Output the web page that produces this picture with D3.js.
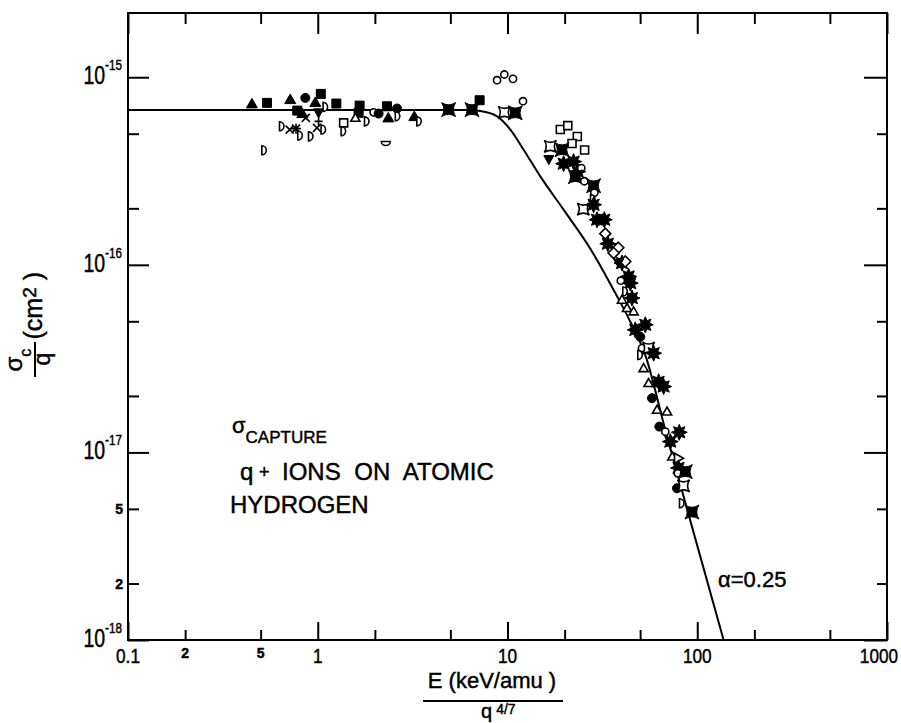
<!DOCTYPE html>
<html>
<head>
<meta charset="utf-8">
<script src="https://cdn.jsdelivr.net/npm/d3@7"></script>
<style>
  body { margin: 0; background: #fff; }
  svg text { font-family: 'Liberation Sans', Arial, sans-serif; fill: #000; stroke: #000; stroke-width: 0.45px; }
</style>
</head>
<body>
<div id="chart"></div>
<script>
// E (keV/amu) / q^(4/7) and sigma_c / q in units of 1e-16 cm^2
const flatEnergy = [0.450, 0.540, 0.523, 0.716, 0.860, 1.038, 0.971, 1.10, 1.253, 0.780,
  0.829, 0.865, 1.010, 1.010, 0.648, 0.711, 0.768, 0.809, 0.921, 0.991,
  1.073, 1.369, 1.369, 1.662, 1.642, 1.578, 1.818, 1.970, 2.093, 2.317,
  2.354, 2.617, 2.642, 3.228, 3.429, 2.284, 4.894, 6.50, 7.13, 8.81,
  9.62, 10.69, 12.07, 9.62, 10.99];
const flatSigma = [7.21, 7.30, 4.08, 7.60, 7.76, 8.15, 7.33, 6.95, 7.24, 6.64,
  6.40, 6.07, 6.46, 5.82, 5.48, 5.26, 5.32, 4.89, 4.84, 5.37,
  5.26, 5.71, 5.15, 7.06, 6.46, 6.07, 5.82, 6.50, 6.40, 7.00,
  6.07, 6.81, 6.19, 6.17, 5.82, 4.43, 6.72, 6.72, 7.54, 9.64,
  10.34, 9.80, 7.45, 6.50, 6.46];
const flatMarks = ['T', 'S', 'd', 'T', 'C', 'S', 'T', 'd', 'S', 'S',
  'T', 'x', 'V', '+', 'd', 'x', '*', 'd', 'd', 'x',
  'd', 's', 'd', 'S', 'S', 't', 'd', 'c', 'C', 'S',
  'T', 'C', 'd', 'T', 'd', 'u', 'A', 'A', 'S', 'c',
  'c', 'c', 'c', 'a', 'A'];

const steepEnergy = [18.98, 20.79, 23.33, 21.88, 25.49, 16.81, 16.51, 19.38, 19.76, 22.30,
  23.47, 24.49, 22.77, 25.40, 28.43, 28.68, 28.22, 25.09, 28.43, 32.37,
  29.64, 32.77, 33.78, 38.36, 36.24, 40.12, 41.77, 38.5, 43.48, 39.55,
  44.39, 41.77, 45.3, 40.12, 42.65, 46.19, 53.23, 47.16, 50.1, 51.15,
  55.4, 58.9, 50.1, 52.15, 55.4, 62.57, 66.5, 57.75, 61.37, 69.3,
  63.1, 67.85, 80.4, 72.1, 73.9, 79.7, 79.7, 79.0, 86.5, 78.2,
  84.7, 83.1, 93.8];
const steepSigma = [5.26, 5.52, 4.83, 4.43, 4.09, 4.28, 3.64, 4.11, 3.46, 3.55,
  3.14, 3.28, 2.95, 2.79, 2.64, 2.42, 2.24, 1.98, 2.09, 1.74,
  1.74, 1.466, 1.296, 1.234, 1.156, 1.022, 1.042, 1.022, 0.867, 0.823,
  0.799, 0.721, 0.665, 0.651, 0.588, 0.564, 0.479, 0.450, 0.413, 0.360,
  0.360, 0.338, 0.331, 0.281, 0.234, 0.238, 0.2245, 0.1946, 0.1686, 0.165,
  0.1373, 0.129, 0.128, 0.1142, 0.095, 0.0931, 0.0827, 0.0774, 0.079, 0.0644,
  0.0663, 0.0536, 0.0481];
const steepMarks = ['s', 's', 's', 's', 's', 'a', 'V', 'A', 'K', 'K',
  'K', 'c', 'A', 'c', 'A', 'c', 'd', 'a', 'K', 'K',
  'K', 'q', 'K', 'q', 'q', 'K', 'q', 'V', 'K', 'c',
  'K', 'd', 'K', 't', 't', 't', 'K', 'K', 'C', 'c',
  'a', 'K', 'd', 't', 't', 'K', 'K', 'C', 't', 't',
  'C', 'c', 'K', 'K', 't', 'r', 'K', 'c', 'A', 'C',
  'a', 'd', 'A'];

// alpha = 0.25 curve
const curveEnergy = [0.1, 6.37, 7.19, 8.81, 10.35, 12.16, 14.89, 20.17, 27.32, 36.99, 44.4, 53.2, 67.85, 91.2, 137.7];
const curveSigma = [6.68, 6.68, 6.60, 6.19, 5.26, 4.11, 2.96, 1.909, 1.219, 0.707, 0.497, 0.331, 0.1318, 0.0445, 0.01];

const xMajorTicks = [0.1, 1, 10, 100, 1000];
const xMinorTicks = [0.2, 0.5, 2, 5, 20, 50, 200, 500];
const xMinorLabels = [[0.2, '2'], [0.5, '5']];
const yMajorTicks = [1e-18, 1e-17, 1e-16, 1e-15];
const yMajorExps = ['-18', '-17', '-16', '-15'];
const yMinorTicks = [2e-18, 5e-18, 2e-17, 5e-17, 2e-16, 5e-16];
const yMinorLabels = [[2e-18, '2'], [5e-18, '5']];
const yTop = 2.2e-15;

const width = 901;
const height = 723;
const plot = { left: 128, right: 887, top: 13, bottom: 640 };

const svg = d3
  .select('#chart')
  .append('svg')
  .attr('width', width)
  .attr('height', height);

const xscale = d3.scaleLog().domain([0.1, 1000]).range([plot.left, plot.right]);
const yscale = d3.scaleLog().domain([1e-18, yTop]).range([plot.bottom, plot.top]);

// Marker shapes, all centred on 0,0
function markerPath(type) {
  const star = (n, ro, ri) =>
    d3.range(2 * n)
      .map((i) => {
        const r = i % 2 ? ri : ro;
        const a = (Math.PI * i) / n - Math.PI / 2;
        return `${i ? 'L' : 'M'}${(r * Math.cos(a)).toFixed(2)},${(r * Math.sin(a)).toFixed(2)}`;
      })
      .join('') + 'Z';
  switch (type) {
    case 'T': return 'M0,-5.5L5.5,4L-5.5,4Z';
    case 't': return 'M0,-4.6L4.6,3.4L-4.6,3.4Z';
    case 'V': return 'M-5,-4L5,-4L0,5Z';
    case 'r': return 'M-4,-5L5,0L-4,5Z';
    case 'S': return 'M-4.5,-4.5h9v9h-9Z';
    case 's': return 'M-4,-4h8v8h-8Z';
    case 'C': return 'M4.5,0A4.5,4.5 0 1,1 -4.5,0A4.5,4.5 0 1,1 4.5,0Z';
    case 'c': return 'M3.6,0A3.6,3.6 0 1,1 -3.6,0A3.6,3.6 0 1,1 3.6,0Z';
    case 'd': return 'M-2.5,-4.5L-2.5,4.5A4.5,4.5 0 0,0 -2.5,-4.5Z';
    case 'u': return 'M-4.5,-2H4.5A4.5,4 0 0,1 -4.5,-2Z';
    case 'x': return 'M-4,-4L4,4M-4,4L4,-4';
    case '+': return 'M0,-5V5M-4,0H4';
    case '*': return 'M-4,-4L4,4M-4,4L4,-4M0,-5V5M-5,0H5';
    case 'A': return 'M-7,-7Q0,-2.5 7,-7Q2.5,0 7,7Q0,2.5 -7,7Q-2.5,0 -7,-7Z';
    case 'a': return 'M-6,-6Q0,-2 6,-6Q2,0 6,6Q0,2 -6,6Q-2,0 -6,-6Z';
    case 'K': return star(8, 8, 4.4);
    case 'q': return 'M0,-5.5L5.5,0L0,5.5L-5.5,0Z';
    default: return '';
  }
}

const filledMarks = 'TVSCAK';
const lineMarks = 'x+*';

function drawPoints(energy, sigma, marks) {
  svg
    .append('g')
    .selectAll('path')
    .data(d3.zip(energy, sigma, marks))
    .join('path')
    .attr('transform', (d) => `translate(${xscale(d[0])},${yscale(d[1] * 1e-16)})`)
    .attr('d', (d) => markerPath(d[2]))
    .attr('fill', (d) => (filledMarks.includes(d[2]) ? '#000' : lineMarks.includes(d[2]) ? 'none' : '#fff'))
    .attr('stroke', '#000')
    .attr('stroke-width', (d) => (filledMarks.includes(d[2]) ? 1 : 1.6));
}

// Inward pointing ticks on all four sides
function addTicks(axisFn, scale, values, size, transform) {
  svg
    .append('g')
    .attr('transform', transform)
    .call(axisFn(scale).tickValues(values).tickSize(-size).tickFormat(''))
    .call((g) => g.select('.domain').remove())
    .selectAll('line')
    .attr('stroke', '#000')
    .attr('stroke-width', 2);
}

addTicks(d3.axisBottom, xscale, xMajorTicks, 18, `translate(0,${plot.bottom})`);
addTicks(d3.axisBottom, xscale, xMinorTicks, 10, `translate(0,${plot.bottom})`);
addTicks(d3.axisTop, xscale, xMajorTicks, 21, `translate(0,${plot.top})`);
addTicks(d3.axisTop, xscale, xMinorTicks, 11, `translate(0,${plot.top})`);
addTicks(d3.axisLeft, yscale, yMajorTicks, 21, `translate(${plot.left},0)`);
addTicks(d3.axisLeft, yscale, yMinorTicks, 11, `translate(${plot.left},0)`);
addTicks(d3.axisRight, yscale, yMajorTicks, 23, `translate(${plot.right},0)`);
addTicks(d3.axisRight, yscale, yMinorTicks, 10, `translate(${plot.right},0)`);

svg
  .append('rect')
  .attr('x', plot.left)
  .attr('y', plot.top)
  .attr('width', plot.right - plot.left)
  .attr('height', plot.bottom - plot.top)
  .attr('fill', 'none')
  .attr('stroke', '#000')
  .attr('stroke-width', 2);

// Tick labels, squeezed horizontally like the stencil lettering
svg
  .append('g')
  .selectAll('text')
  .data(xMajorTicks)
  .join('text')
  .attr('transform', (d) => `translate(${xscale(d) + (d === 1000 ? -8 : 0)},${plot.bottom + 23}) scale(0.82,1)`)
  .attr('text-anchor', 'middle')
  .style('font-size', '21px')
  .text((d) => d.toString());

svg
  .append('g')
  .selectAll('text')
  .data(xMinorLabels)
  .join('text')
  .attr('x', (d) => xscale(d[0]))
  .attr('y', plot.bottom + 18)
  .attr('text-anchor', 'middle')
  .style('font-size', '14px')
  .style('font-weight', 'bold')
  .text((d) => d[1]);

const yLabels = svg
  .append('g')
  .selectAll('text')
  .data(d3.zip(yMajorTicks, yMajorExps))
  .join('text')
  .attr('transform', (d) => `translate(${plot.left - 6},${yscale(d[0]) + 7}) scale(0.78,1)`)
  .attr('text-anchor', 'end');
yLabels.append('tspan').style('font-size', '25px').text('10');
yLabels
  .append('tspan')
  .attr('dy', -14)
  .style('font-size', '15px')
  .text((d) => d[1]);

svg
  .append('g')
  .selectAll('text')
  .data(yMinorLabels)
  .join('text')
  .attr('x', plot.left - 5)
  .attr('y', (d) => yscale(d[0]) + 5)
  .attr('text-anchor', 'end')
  .style('font-size', '14px')
  .style('font-weight', 'bold')
  .text((d) => d[1]);

// Theory curve, then the data on top of it
const curve = d3
  .line()
  .x((d) => xscale(d[0]))
  .y((d) => yscale(d[1] * 1e-16))
  .curve(d3.curveMonotoneX);

svg
  .append('path')
  .datum(d3.zip(curveEnergy, curveSigma))
  .attr('d', curve)
  .attr('fill', 'none')
  .attr('stroke', '#000')
  .attr('stroke-width', 2);

drawPoints(flatEnergy, flatSigma, flatMarks);
drawPoints(steepEnergy, steepSigma, steepMarks);

// Annotations
const capture = svg.append('text').attr('x', 232).attr('y', 433);
capture.append('tspan').style('font-size', '22px').text('σ');
capture.append('tspan').attr('dy', 10).style('font-size', '17px').text('CAPTURE');

svg.append('text').attr('x', 240).attr('y', 480).style('font-size', '24px').text('q');
svg.append('text').attr('x', 259).attr('y', 478).style('font-size', '18px').text('+');
svg
  .append('text')
  .attr('x', 282)
  .attr('y', 480)
  .style('font-size', '24px')
  .style('word-spacing', '7px')
  .text('IONS ON ATOMIC');
svg.append('text').attr('x', 230).attr('y', 513).style('font-size', '24px').text('HYDROGEN');

svg.append('text').attr('x', 718).attr('y', 587).style('font-size', '22px').text('α=0.25');

// X axis title as a fraction
svg
  .append('text')
  .attr('x', 492)
  .attr('y', 688)
  .attr('text-anchor', 'middle')
  .style('font-size', '22px')
  .text('E (keV/amu )');
svg
  .append('line')
  .attr('x1', 423)
  .attr('x2', 563)
  .attr('y1', 701)
  .attr('y2', 701)
  .attr('stroke', '#000')
  .attr('stroke-width', 2);
const denom = svg.append('text').attr('x', 481).attr('y', 718);
denom.append('tspan').style('font-size', '20px').text('q');
denom.append('tspan').attr('dx', 4).attr('dy', -4).style('font-size', '14px').text('4/7');

// Y axis title, rotated
const yTitle = svg.append('g').attr('transform', 'translate(35,359.5) rotate(-90)');
yTitle
  .append('line')
  .attr('x1', -17.5)
  .attr('x2', 17.5)
  .attr('stroke', '#000')
  .attr('stroke-width', 2);
const sig = yTitle.append('text').attr('x', -12).attr('y', -13);
sig.append('tspan').style('font-size', '24px').text('σ');
sig.append('tspan').attr('dy', 9).style('font-size', '16px').text('c');
yTitle.append('text').attr('x', -6).attr('y', 15).style('font-size', '23px').text('q');
const units = yTitle.append('text').attr('x', 20).attr('y', 7).style('font-size', '25px');
units.append('tspan').text('(cm');
units.append('tspan').attr('dy', -6).style('font-size', '19px').text('2');
units.append('tspan').attr('dy', 6).text(' )');
</script>
</body>
</html>
